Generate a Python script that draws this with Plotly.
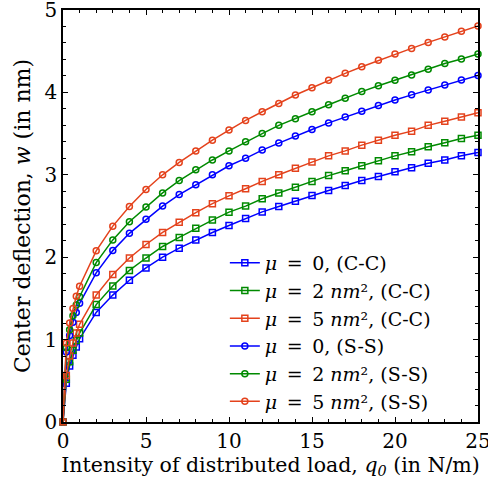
import plotly.graph_objects as go

q = [0, 0.2, 0.4, 0.6, 0.8, 1, 2, 3, 4, 5, 6, 7, 8, 9, 10, 11, 12, 13, 14, 15,
     16, 17, 18, 19, 20, 21, 22, 23, 24, 25]

cc_mu0 = [0, 0.47, 0.68, 0.81, 0.91, 1.01, 1.33, 1.54, 1.72, 1.87, 2.00, 2.11, 2.21, 2.30,
          2.385, 2.47, 2.55, 2.615, 2.68, 2.75, 2.81, 2.87, 2.93, 2.98, 3.036, 3.085, 3.14,
          3.18, 3.23, 3.27]
cc_mu2 = [0, 0.52, 0.73, 0.87, 0.99, 1.08, 1.425, 1.65, 1.84, 1.99, 2.13, 2.24, 2.35, 2.45,
          2.547, 2.62, 2.71, 2.78, 2.85, 2.92, 2.99, 3.05, 3.11, 3.17, 3.23, 3.28, 3.34,
          3.39, 3.44, 3.48]
cc_mu5 = [0, 0.565, 0.80, 0.96, 1.08, 1.186, 1.54, 1.79, 1.99, 2.154, 2.30, 2.425, 2.54, 2.65,
          2.745, 2.83, 2.92, 3.00, 3.08, 3.154, 3.23, 3.29, 3.36, 3.42, 3.48, 3.53, 3.60,
          3.65, 3.70, 3.753]
ss_mu0 = [0, 0.85, 1.05, 1.21, 1.33, 1.44, 1.81, 2.08, 2.29, 2.46, 2.62, 2.76, 2.88, 3.00,
          3.11, 3.20, 3.30, 3.385, 3.47, 3.55, 3.63, 3.70, 3.77, 3.84, 3.907, 3.97, 4.03,
          4.09, 4.15, 4.206]
ss_mu2 = [0, 0.90, 1.12, 1.29, 1.42, 1.52, 1.935, 2.21, 2.43, 2.61, 2.78, 2.93, 3.06, 3.18,
          3.29, 3.40, 3.50, 3.60, 3.68, 3.765, 3.85, 3.93, 4.01, 4.08, 4.146, 4.21, 4.28,
          4.35, 4.405, 4.466]
ss_mu5 = [0, 0.96, 1.20, 1.376, 1.526, 1.648, 2.077, 2.377, 2.615, 2.822, 3.00, 3.15, 3.29,
          3.42, 3.543, 3.66, 3.765, 3.866, 3.968, 4.057, 4.146, 4.231, 4.312, 4.389, 4.466,
          4.534, 4.607, 4.672, 4.741, 4.806]

sp = "\u2002"
labels = [
    f"<i>μ</i>{sp}={sp}0, (C-C)",
    f"<i>μ</i>{sp}={sp}2 <i>nm</i>², (C-C)",
    f"<i>μ</i>{sp}={sp}5 <i>nm</i>², (C-C)",
    f"<i>μ</i>{sp}={sp}0, (S-S)",
    f"<i>μ</i>{sp}={sp}2 <i>nm</i>², (S-S)",
    f"<i>μ</i>{sp}={sp}5 <i>nm</i>², (S-S)",
]
series = [cc_mu0, cc_mu2, cc_mu5, ss_mu0, ss_mu2, ss_mu5]
colors = ["#0000ff", "#008a00", "#e4421c", "#0000ff", "#008a00", "#e4421c"]
symbols = ["square-open", "square-open", "square-open",
           "circle-open", "circle-open", "circle-open"]

fig = go.Figure()
for lab, ys, c, s in zip(labels, series, colors, symbols):
    fig.add_trace(go.Scatter(
        x=q, y=ys, name=lab, mode="lines+markers",
        line=dict(color=c, width=1.5),
        marker=dict(symbol=s, size=6, color=c, line=dict(color=c, width=1.5)),
        cliponaxis=False,
    ))

font_family = "DejaVu Serif, Liberation Serif, serif"
axis_common = dict(
    showgrid=False, zeroline=False, showline=True, linecolor="black", linewidth=1.5,
    mirror="allticks", ticks="inside", ticklen=5, tickwidth=1, tickcolor="black",
    tickfont=dict(family=font_family, size=20, color="black"),
    automargin=False, ticklabeloverflow="allow",
)
fig.update_layout(
    width=488, height=490,
    margin=dict(l=63, r=10, t=10, b=68),
    plot_bgcolor="white", paper_bgcolor="white",
    font=dict(family=font_family, color="black"),
    xaxis=dict(range=[0, 25], tickvals=[0, 5, 10, 15, 20, 25],
               minor=dict(dtick=1, ticks="inside", ticklen=3, tickcolor="black"),
               title=dict(text="Intensity of distributed load, <i>q<sub>0</sub></i> (in N/m)",
                          font=dict(family=font_family, size=20.5), standoff=6),
               **axis_common),
    yaxis=dict(range=[0, 5], tickvals=[0, 1, 2, 3, 4, 5],
               minor=dict(dtick=0.2, ticks="inside", ticklen=3, tickcolor="black"),
               title=dict(text="Center deflection, <i>w</i> (in nm)",
                          font=dict(family=font_family, size=22), standoff=8),
               **axis_common),
    legend=dict(x=0.39, y=0.432, xanchor="left", yanchor="top",
                bgcolor="rgba(0,0,0,0)", borderwidth=0,
                font=dict(family=font_family, size=19), tracegroupgap=0,
                itemwidth=30),
    showlegend=True,
)
fig.write_html("out.html")
